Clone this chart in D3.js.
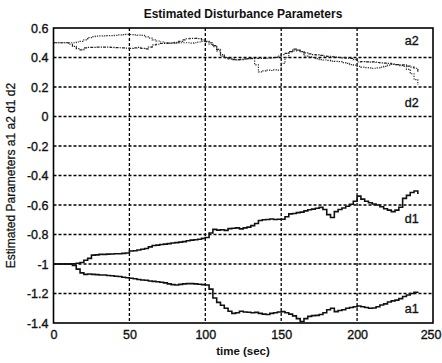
<!DOCTYPE html>
<html>
<head>
<meta charset="utf-8">
<script src="https://cdn.jsdelivr.net/npm/d3@7/dist/d3.min.js"></script>
<style>
  html, body { margin: 0; padding: 0; background: #fff; }
  svg text { font-family: "Liberation Sans", Arial, sans-serif; fill: #111; }
</style>
</head>
<body>
<svg id="chart" width="442" height="363"></svg>
<script>
// Sample times (sec), one estimate every 2.5 s
const time = d3.range(0, 240.01, 2.5);

// Estimated parameters at each sample time
const a1 = [
  -1.00, -1.00, -1.00, -1.00, -1.00, -1.01, -1.035, -1.06, -1.07, -1.068,
  -1.07, -1.072, -1.075, -1.075, -1.078, -1.08, -1.083, -1.085, -1.09, -1.093,
  -1.097, -1.10, -1.105, -1.108, -1.11, -1.115, -1.118, -1.12, -1.124, -1.128,
  -1.135, -1.14, -1.142, -1.138, -1.135, -1.133, -1.133, -1.135, -1.137, -1.14,
  -1.142, -1.17, -1.23, -1.26, -1.28, -1.30, -1.32, -1.335, -1.33, -1.32,
  -1.325, -1.327, -1.33, -1.328, -1.335, -1.34, -1.342, -1.335, -1.33, -1.325,
  -1.323, -1.33, -1.34, -1.352, -1.37, -1.39, -1.37, -1.355, -1.35, -1.348,
  -1.342, -1.33, -1.31, -1.30, -1.323, -1.315, -1.31, -1.30, -1.295, -1.29,
  -1.285, -1.29, -1.295, -1.30, -1.298, -1.29, -1.278, -1.27, -1.258, -1.25,
  -1.245, -1.235, -1.22, -1.21, -1.20, -1.192, -1.188];
const d1 = [
  -1.00, -1.00, -1.00, -1.00, -1.00, -0.998, -0.995, -0.99, -0.975, -0.962,
  -0.94, -0.938, -0.935, -0.935, -0.933, -0.932, -0.93, -0.93, -0.928, -0.925,
  -0.912, -0.91, -0.905, -0.90, -0.895, -0.884, -0.875, -0.872, -0.868, -0.865,
  -0.862, -0.858, -0.855, -0.852, -0.848, -0.842, -0.838, -0.836, -0.832, -0.826,
  -0.82, -0.79, -0.765, -0.77, -0.768, -0.772, -0.76, -0.758, -0.755, -0.762,
  -0.755, -0.75, -0.74, -0.725, -0.705, -0.70, -0.698, -0.695, -0.698, -0.697,
  -0.697, -0.68, -0.66, -0.658, -0.652, -0.648, -0.64, -0.632, -0.628, -0.622,
  -0.616, -0.63, -0.665, -0.685, -0.645, -0.63, -0.62, -0.608, -0.595, -0.575,
  -0.54, -0.56, -0.575, -0.585, -0.593, -0.60, -0.612, -0.625, -0.635, -0.645,
  -0.635, -0.615, -0.555, -0.535, -0.515, -0.505, -0.525];
const a2 = [
  0.50, 0.50, 0.50, 0.50, 0.50, 0.50, 0.505, 0.51, 0.52, 0.535,
  0.542, 0.545, 0.546, 0.547, 0.548, 0.548, 0.55, 0.553, 0.555, 0.557,
  0.556, 0.554, 0.552, 0.55, 0.54, 0.532, 0.52, 0.512, 0.505, 0.50,
  0.497, 0.497, 0.498, 0.50, 0.50, 0.50, 0.498, 0.50, 0.505, 0.51,
  0.505, 0.49, 0.473, 0.445, 0.41, 0.397, 0.394, 0.39, 0.385, 0.388,
  0.39, 0.392, 0.393, 0.35, 0.303, 0.31, 0.315, 0.312, 0.316, 0.314,
  0.36, 0.40, 0.44, 0.445, 0.45, 0.44, 0.41, 0.405, 0.40, 0.392,
  0.385, 0.383, 0.38, 0.376, 0.374, 0.372, 0.365, 0.36, 0.352, 0.348,
  0.34, 0.335, 0.332, 0.33, 0.327, 0.33, 0.335, 0.34, 0.348, 0.354,
  0.352, 0.345, 0.34, 0.32, 0.29, 0.25, 0.214];
const d2 = [
  0.50, 0.50, 0.50, 0.50, 0.49, 0.475, 0.46, 0.452, 0.465, 0.468,
  0.468, 0.47, 0.47, 0.471, 0.47, 0.468, 0.467, 0.466, 0.465, 0.463,
  0.462, 0.465, 0.468, 0.462, 0.458, 0.47, 0.485, 0.49, 0.495, 0.496,
  0.498, 0.50, 0.502, 0.51, 0.52, 0.527, 0.53, 0.53, 0.528, 0.52,
  0.51, 0.50, 0.48, 0.455, 0.42, 0.40, 0.39, 0.385, 0.383, 0.385,
  0.39, 0.393, 0.394, 0.395, 0.394, 0.394, 0.395, 0.397, 0.40, 0.41,
  0.42, 0.428, 0.44, 0.457, 0.45, 0.44, 0.432, 0.425, 0.42, 0.418,
  0.415, 0.41, 0.408, 0.405, 0.402, 0.40, 0.398, 0.396, 0.394, 0.385,
  0.37, 0.372, 0.37, 0.368, 0.37, 0.366, 0.364, 0.362, 0.36, 0.356,
  0.352, 0.35, 0.35, 0.342, 0.335, 0.327, 0.30];

// Axis ticks and text
const xTicks = [0, 50, 100, 150, 200, 250];
const yTicks = [0.6, 0.4, 0.2, 0, -0.2, -0.4, -0.6, -0.8, -1, -1.2, -1.4];
const seriesNames = ["a1", "a2", "d1", "d2"];
const labelPos = [{ name: "a2", t: 236, v: 0.505 }, { name: "d2", t: 236, v: 0.09 },
                  { name: "d1", t: 236, v: -0.70 }, { name: "a1", t: 236, v: -1.31 }];
const titleText = "Estimated Disturbance Parameters";
const xLabel = "time (sec)";
const yLabel = "Estimated Parameters a1 a2 d1 d2";

const svg = d3.select("#chart");
const W = 442, H = 363;
const m = { left: 53.5, right: 9, top: 28, bottom: 40 };

const x = d3.scaleLinear().domain([0, 250]).range([m.left, W - m.right]);
const y = d3.scaleLinear().domain([-1.4, 0.6]).range([H - m.bottom, m.top]);

// Dotted grid
const grid = svg.append("g");
grid.selectAll("line.gx").data(xTicks.slice(1, -1)).join("line")
  .attr("x1", d => x(d)).attr("x2", d => x(d))
  .attr("y1", y(0.6)).attr("y2", y(-1.4))
  .attr("stroke", "#000").attr("stroke-width", 1.3).attr("stroke-dasharray", "3,2");
grid.selectAll("line.gy").data(yTicks.slice(1, -1)).join("line")
  .attr("x1", x(0)).attr("x2", x(250))
  .attr("y1", d => y(d)).attr("y2", d => y(d))
  .attr("stroke", "#000").attr("stroke-width", 1.3).attr("stroke-dasharray", "3,2");

// Axes with labels only; the frame is drawn separately
const fmt = d => (d === 0 ? "0" : String(+d.toFixed(1)));
const xAxis = svg.append("g").attr("transform", `translate(0,${y(-1.4)})`)
  .call(d3.axisBottom(x).tickValues(xTicks).tickSize(0).tickPadding(7).tickFormat(d3.format("d")));
const yAxis = svg.append("g").attr("transform", `translate(${x(0)},0)`)
  .call(d3.axisLeft(y).tickValues(yTicks).tickSize(0).tickPadding(5).tickFormat(fmt));
[xAxis, yAxis].forEach(g => {
  g.select(".domain").remove();
  g.selectAll("text")
    .attr("font-size", 12.5)
    .attr("font-family", "Liberation Sans, Arial, sans-serif")
    .attr("fill", "#111").attr("stroke", "#111").attr("stroke-width", 0.35);
});
// keep the last x label inside the window
xAxis.selectAll(".tick").filter(d => d === 250).select("text")
  .attr("text-anchor", "end").attr("x", W - 1 - x(250));

// Series lines
const series = { a1, a2, d1, d2 };
const style = {
  a1: { color: "#111", width: 1.6, dash: null },
  d1: { color: "#111", width: 1.6, dash: null },
  a2: { color: "#333", width: 1.2, dash: "1.3,1.2" },
  d2: { color: "#222", width: 1.2, dash: "3,1.2,1.2,1.2" }
};
const line = d3.line().curve(d3.curveStepAfter).x((d, i) => x(time[i])).y(d => y(d));
svg.append("clipPath").attr("id", "plotclip").append("rect")
  .attr("x", x(0)).attr("y", y(0.6)).attr("width", x(250) - x(0)).attr("height", y(-1.4) - y(0.6));
svg.append("g").attr("clip-path", "url(#plotclip)")
  .selectAll("path").data(seriesNames).join("path")
  .attr("d", k => line(series[k]))
  .attr("fill", "none")
  .attr("stroke", k => style[k].color)
  .attr("stroke-width", k => style[k].width)
  .attr("stroke-dasharray", k => style[k].dash);

// Frame
svg.append("rect")
  .attr("x", x(0)).attr("y", y(0.6))
  .attr("width", x(250) - x(0)).attr("height", y(-1.4) - y(0.6))
  .attr("fill", "none").attr("stroke", "#000").attr("stroke-width", 1.6);

// Series labels inside the plot
svg.selectAll("text.lbl").data(labelPos).join("text")
  .attr("class", "lbl")
  .attr("x", d => x(d.t)).attr("y", d => y(d.v))
  .attr("text-anchor", "middle").attr("dominant-baseline", "middle")
  .attr("font-size", 12.5).attr("stroke", "#111").attr("stroke-width", 0.35)
  .text(d => d.name);

// Title and axis titles
svg.append("text").attr("x", 243).attr("y", 18).attr("text-anchor", "middle")
  .attr("font-size", 12).attr("font-weight", "bold").text(titleText);
svg.append("text").attr("x", 243).attr("y", 355).attr("text-anchor", "middle")
  .attr("font-size", 11.5).attr("font-weight", "bold").text(xLabel);
svg.append("text")
  .attr("transform", `translate(15,${(y(0.6) + y(-1.4)) / 2}) rotate(-90)`)
  .attr("text-anchor", "middle").attr("font-size", 12)
  .attr("stroke", "#111").attr("stroke-width", 0.25).text(yLabel);
</script>
</body>
</html>
